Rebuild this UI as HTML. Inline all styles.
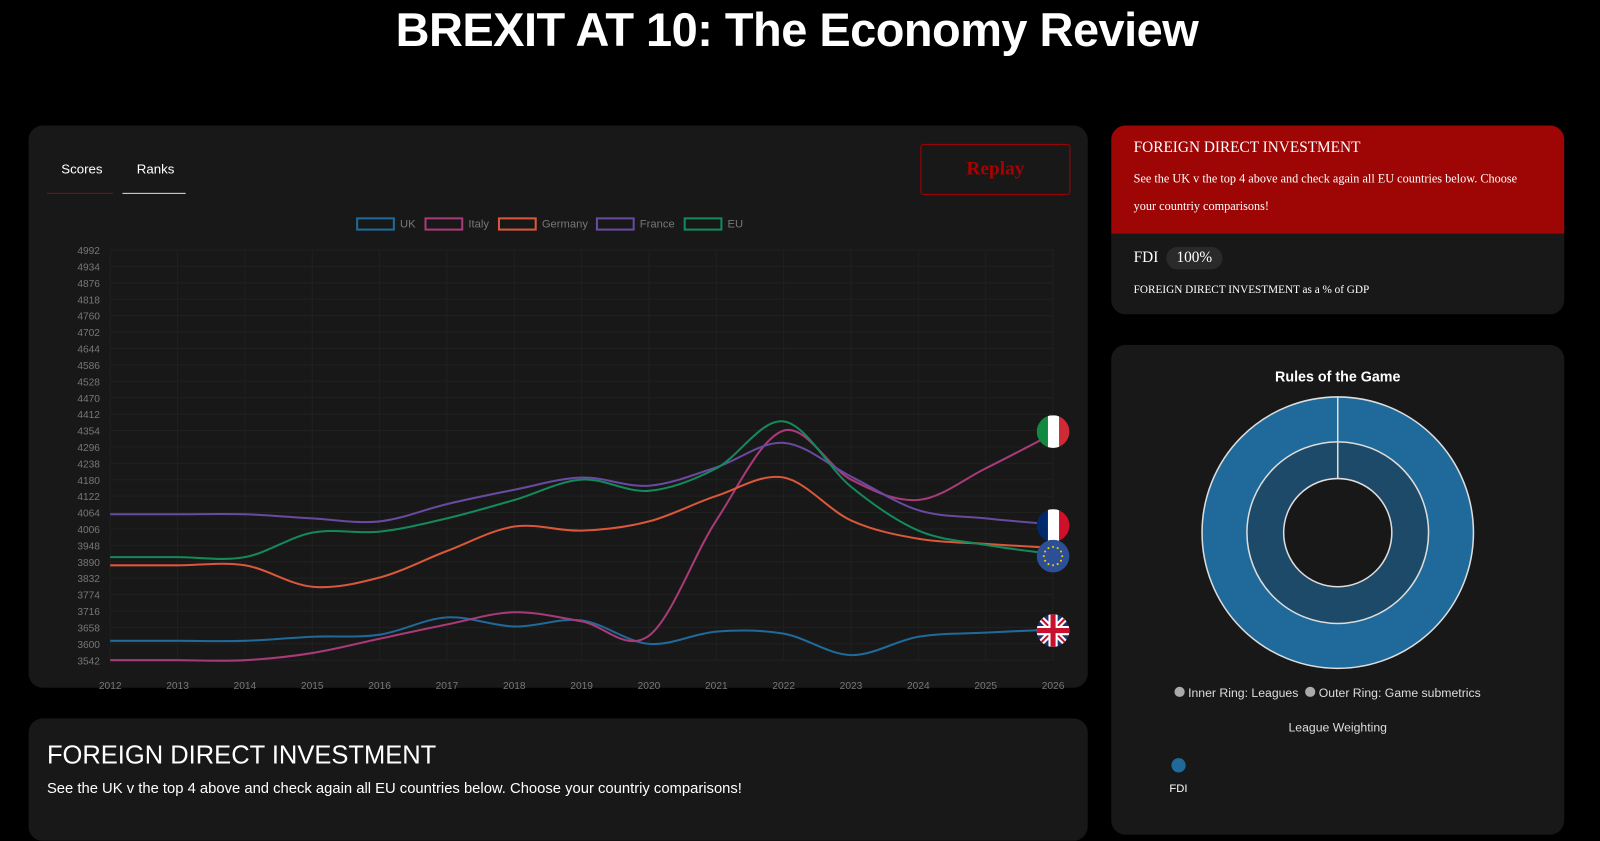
<!DOCTYPE html>
<html><head><meta charset="utf-8"><style>
body{margin:0;background:#000;width:1600px;height:803px;overflow:hidden;font-family:"Liberation Sans",sans-serif;color:#fff;position:relative}
#wrap{position:absolute;left:0;top:0;width:1568px;height:787px;transform:scale(1.0204);transform-origin:0 0}
.title{position:absolute;top:2px;left:0;width:1562px;text-align:center;font-size:46px;font-weight:900;letter-spacing:-0.5px}
.card{position:absolute;background:#181818;border-radius:14px}
.serif{font-family:"Liberation Serif","DejaVu Serif",serif}
</style></head><body><div id="wrap">
<div class="title">BREXIT AT 10: The Economy Review</div>
<div class="card" style="left:28px;top:123px;width:1038px;height:551px">
 <div style="position:absolute;left:32px;top:35px;font-size:13px">Scores</div>
 <div style="position:absolute;left:106px;top:35px;font-size:13px">Ranks</div>
 <div style="position:absolute;left:18px;top:66px;width:65px;height:1px;background:#8b0a0a"></div>
 <div style="position:absolute;left:92px;top:66px;width:62px;height:1px;background:#ddd"></div>
 <div class="serif" style="position:absolute;left:874px;top:18px;width:145px;height:48px;border:1px solid #a00;border-radius:3px;color:#a00;font-size:19px;font-weight:bold;text-align:center;line-height:48px">Replay</div>
</div>
<div class="card" style="left:1089px;top:123px;width:444px;height:185px;overflow:hidden">
 <div class="serif" style="background:#9e0505;height:106px;padding:0 22px">
  <div style="padding-top:14px;font-size:15px">FOREIGN DIRECT INVESTMENT</div>
  <div style="font-size:12px;line-height:27px;margin-top:8px">See the UK v the top 4 above and check again all EU countries below. Choose your countriy comparisons!</div>
 </div>
 <div class="serif" style="position:absolute;left:22px;top:122px;font-size:15px">FDI <span style="background:#2a2a2a;border-radius:12px;padding:3px 10px;margin-left:4px">100%</span></div>
 <div class="serif" style="position:absolute;left:22px;top:155px;font-size:11px">FOREIGN DIRECT INVESTMENT as a % of GDP</div>
</div>
<div class="card" style="left:1089px;top:338px;width:444px;height:480px">
 <div style="position:absolute;top:23px;width:100%;text-align:center;font-size:14px;font-weight:bold">Rules of the Game</div>
 <div style="position:absolute;top:334px;left:62px;font-size:12px;color:#ddd"><span style="display:inline-block;width:10px;height:10px;border-radius:5px;background:#aaa"></span> Inner Ring: Leagues &nbsp;<span style="display:inline-block;width:10px;height:10px;border-radius:5px;background:#aaa"></span> Outer Ring: Game submetrics</div>
 <div style="position:absolute;top:368px;width:100%;text-align:center;font-size:12px;color:#ddd">League Weighting</div>
 <div style="position:absolute;top:405px;left:59px;width:14px;height:14px;border-radius:7px;background:#1f6a9a"></div>
 <div style="position:absolute;top:429px;left:57px;font-size:11px">FDI</div>
</div>
<div class="card" style="left:28px;top:704px;width:1038px;height:120px">
 <div style="position:absolute;left:18px;top:22px;font-size:25px">FOREIGN DIRECT INVESTMENT</div>
 <div style="position:absolute;left:18px;top:61px;font-size:14.5px">See the UK v the top 4 above and check again all EU countries below. Choose your countriy comparisons!</div>
</div>
<svg style="position:absolute;left:0;top:0" width="1600" height="803" id="ch">
 <g font-size="11" fill="#777" font-family="Liberation Sans, sans-serif">
  <rect x="350" y="214" width="36" height="11" fill="none" stroke="#1f6a9a" stroke-width="2"/><text x="392" y="223">UK</text>
  <rect x="417" y="214" width="36" height="11" fill="none" stroke="#a83a78" stroke-width="2"/><text x="459" y="223">Italy</text>
  <rect x="489" y="214" width="36" height="11" fill="none" stroke="#d9573a" stroke-width="2"/><text x="531" y="223">Germany</text>
  <rect x="585" y="214" width="36" height="11" fill="none" stroke="#6a4aa0" stroke-width="2"/><text x="627" y="223">France</text>
  <rect x="671" y="214" width="36" height="11" fill="none" stroke="#138a5a" stroke-width="2"/><text x="713" y="223">EU</text>
 </g>
 <g id="grid"></g><g id="lines"></g>
 <circle cx="1311" cy="522" r="133" fill="#1f6a9a" stroke="#ddd" stroke-width="1.5"/>
 <circle cx="1311" cy="522" r="89" fill="#1c4a68" stroke="#ddd" stroke-width="1.5"/>
 <circle cx="1311" cy="522" r="53" fill="#181818" stroke="#ddd" stroke-width="1.5"/>
 <line x1="1311" y1="389" x2="1311" y2="469" stroke="#ddd" stroke-width="1.5"/>
</svg>
</div>
<script>
var ns="http://www.w3.org/2000/svg",g=document.getElementById('grid'),L=document.getElementById('lines');
function el(p,t,a){var e=document.createElementNS(ns,t);for(var k in a)e.setAttribute(k,a[k]);p.appendChild(e);return e}
for(var i=0;i<26;i++){var y=245+i*16.08;el(g,'line',{x1:108,x2:1032,y1:y,y2:y,stroke:'#202020'});var t=el(g,'text',{x:98,y:y+4,'text-anchor':'end','font-size':10,fill:'#777'});t.textContent=4992-58*i;}
for(var j=0;j<15;j++){var x=108+j*66;el(g,'line',{x1:x,x2:x,y1:245,y2:647,stroke:'#202020'});var t=el(g,'text',{x:x,y:675,'text-anchor':'middle','font-size':10,fill:'#777'});t.textContent=2012+j;}
var S=[['#1f6a9a',[628,628,628,624,622,605,614,608,631,619,621,642,624,620,617]],
['#a83a78',[647,647,647,640,626,612,600,609,623,510,422,470,490,459,425]],
['#d9573a',[554,554,554,575,566,540,516,520,511,486,468,510,528,533,537]],
['#6a4aa0',[504,504,504,508,511,494,480,468,476,458,434,467,500,508,514]],
['#138a5a',[546,546,546,522,521,508,490,470,481,459,413,477,520,534,543]]];
S.forEach(function(s){var p=s[1].map(function(y,i){return[108+66*i,y]});var d='M'+p[0];for(var i=0;i<p.length-1;i++){var a=p[i-1]||p[i],b=p[i],c=p[i+1],e=p[i+2]||c;d+='C'+(b[0]+(c[0]-a[0])/6)+','+(b[1]+(c[1]-a[1])/6)+' '+(c[0]-(e[0]-b[0])/6)+','+(c[1]-(e[1]-b[1])/6)+' '+c;}el(L,'path',{d:d,fill:'none',stroke:s[0],'stroke-width':2});});
function flag(cy,cols,id){var cp=el(L,'clipPath',{id:id});el(cp,'circle',{cx:1032,cy:cy,r:16});var gg=el(L,'g',{'clip-path':'url(#'+id+')'});return gg}
var f=flag(423,0,'fi');el(f,'rect',{x:1016,y:407,width:11,height:32,fill:'#128a3e'});el(f,'rect',{x:1027,y:407,width:11,height:32,fill:'#fff'});el(f,'rect',{x:1038,y:407,width:11,height:32,fill:'#cf2b37'});
f=flag(515,0,'ff');el(f,'rect',{x:1016,y:499,width:11,height:32,fill:'#002a6b'});el(f,'rect',{x:1027,y:499,width:11,height:32,fill:'#fff'});el(f,'rect',{x:1038,y:499,width:11,height:32,fill:'#d0102a'});
f=flag(545,0,'fe');el(f,'rect',{x:1016,y:529,width:32,height:32,fill:'#2d4f96'});for(var k=0;k<12;k++){var a=k*Math.PI/6;el(f,'circle',{cx:1032+9*Math.cos(a),cy:545+9*Math.sin(a),r:1,fill:'#f4d000'})}
f=flag(618,0,'fu');el(f,'rect',{x:1016,y:602,width:32,height:32,fill:'#1d2f6e'});el(f,'path',{d:'M1016 602L1048 634M1048 602L1016 634',stroke:'#fff','stroke-width':6});el(f,'path',{d:'M1016 602L1048 634M1048 602L1016 634',stroke:'#c8102e','stroke-width':2});el(f,'path',{d:'M1032 602V634M1016 618H1048',stroke:'#fff','stroke-width':9});el(f,'path',{d:'M1032 602V634M1016 618H1048',stroke:'#c8102e','stroke-width':5});
</script>
</body></html>
